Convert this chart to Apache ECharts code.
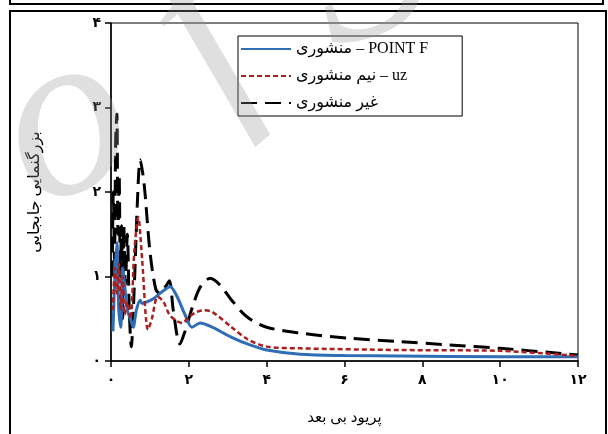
<!DOCTYPE html>
<html dir="ltr">
<head>
<meta charset="utf-8">
<script src="https://cdn.jsdelivr.net/npm/echarts@6/dist/echarts.min.js"></script>
<style>html,body{margin:0;padding:0;background:#fff}#c{width:608px;height:434px}</style>
</head>
<body>
<div id="c"></div>
<script>
// ---- data ----
var xTicks = [0, 2, 4, 6, 8, 10, 12];
var yTicks = [0, 1, 2, 3, 4];
var seriesNames = ['منشوری – POINT F', 'نیم منشوری – uz', 'غیر منشوری'];

var blueX = [0.05, 0.1, 0.15, 0.2, 0.25, 0.3, 0.35, 0.42, 0.5, 0.57, 0.65, 0.75, 0.8, 0.92, 1.1, 1.26, 1.52, 1.7, 1.9, 2.08, 2.29, 2.6, 3.1, 3.57, 4.0, 4.86, 6.0, 7.4, 10, 12];
var blueY = [0.35, 1.0, 1.4, 0.6, 0.4, 1.1, 0.9, 0.6, 0.5, 0.4, 0.6, 0.72, 0.68, 0.70, 0.74, 0.8, 0.88, 0.76, 0.55, 0.40, 0.45, 0.40, 0.28, 0.19, 0.13, 0.08, 0.065, 0.06, 0.05, 0.05];

var redX = [0.05, 0.1, 0.15, 0.2, 0.25, 0.3, 0.35, 0.42, 0.5, 0.6, 0.7, 0.8, 0.95, 1.05, 1.2, 1.35, 1.5, 1.7, 1.83, 2.0, 2.2, 2.37, 2.6, 3.1, 3.5, 4.0, 4.86, 7.4, 10, 12];
var redY = [0.6, 1.1, 0.8, 1.15, 0.6, 1.0, 0.55, 0.7, 0.5, 1.3, 1.7, 1.2, 0.37, 0.5, 0.76, 0.7, 0.55, 0.47, 0.45, 0.52, 0.58, 0.6, 0.58, 0.4, 0.26, 0.17, 0.15, 0.13, 0.12, 0.06];

var blackX = [0.03, 0.06, 0.09, 0.12, 0.15, 0.18, 0.21, 0.24, 0.27, 0.3, 0.33, 0.37, 0.42, 0.47, 0.52, 0.6, 0.68, 0.75, 0.85, 1.0, 1.15, 1.26, 1.4, 1.5, 1.6, 1.77, 1.9, 2.1, 2.3, 2.55, 2.8, 3.1, 3.5, 4.0, 4.86, 6.1, 7.4, 8.7, 10, 11.3, 12];
var blackY = [1.0, 2.0, 1.2, 2.6, 2.92, 1.5, 2.2, 1.0, 1.6, 0.5, 1.6, 0.9, 1.5, 0.6, 0.17, 0.9, 1.9, 2.38, 2.1, 1.3, 0.85, 0.8, 0.88, 0.95, 0.6, 0.2, 0.35, 0.65, 0.88, 0.98, 0.9, 0.72, 0.52, 0.4, 0.33, 0.27, 0.23, 0.19, 0.15, 0.1, 0.07];

function zip(xs, ys) { return xs.map(function (x, i) { return [x, ys[i]]; }); }
function fa(v) { return String(v).replace(/\d/g, function (d) { return '۰۱۲۳۴۵۶۷۸۹'[+d]; }); }

var FONT = "'Liberation Serif', 'DejaVu Sans', serif";
var WM = 'rgba(150,150,150,0.3)';
var WMFONT = "italic 240px 'Liberation Serif', serif";
var chart = echarts.init(document.getElementById('c'), null, { renderer: 'canvas' });
chart.setOption({
  animation: false,
  backgroundColor: '#fff',
  grid: { left: 111, right: 30, top: 23, bottom: 73, show: true, borderColor: '#000', borderWidth: 1, backgroundColor: 'transparent' },
  legend: {
    left: 238, top: 36, orient: 'vertical', align: 'left',
    itemWidth: 50, itemHeight: 12, itemGap: 11,
    padding: [5, 34, 5, 2],
    borderColor: '#000', borderWidth: 1,
    backgroundColor: '#fff',
    itemStyle: { opacity: 0 },
    textStyle: { fontFamily: FONT, fontSize: 16, color: '#000' },
    data: seriesNames
  },
  xAxis: {
    type: 'value', min: 0, max: 12, interval: 2,
    name: 'پریود بی بعد', nameLocation: 'middle', nameGap: 50,
    nameTextStyle: { fontFamily: FONT, fontSize: 15, color: '#000' },
    axisLine: { lineStyle: { color: '#000', width: 1.5 } },
    axisTick: { show: true, length: 6, lineStyle: { color: '#000', width: 1.5 } },
    axisLabel: { margin: 12, fontFamily: FONT, fontSize: 14, fontWeight: 'bold', color: '#000', formatter: function (v) { return fa(v); } },
    splitLine: { show: false }
  },
  yAxis: {
    type: 'value', min: 0, max: 4, interval: 1,
    name: 'بزرگنمایی جابجایی', nameLocation: 'middle', nameGap: 68,
    nameTextStyle: { fontFamily: FONT, fontSize: 16, color: '#000' },
    axisLine: { show: true, lineStyle: { color: '#000', width: 1.5 } },
    axisTick: { show: true, length: 6, lineStyle: { color: '#000', width: 1.5 } },
    axisLabel: { margin: 10, fontFamily: FONT, fontSize: 14, fontWeight: 'bold', color: '#000', formatter: function (v) { return fa(v); } },
    splitLine: { show: false }
  },
  series: [
    { name: seriesNames[0], type: 'line', data: zip(blueX, blueY), smooth: 0.3, showSymbol: false, symbol: 'none', z: 3,
      itemStyle: { color: '#2f6db5' }, lineStyle: { color: '#2f6db5', width: 3 } },
    { name: seriesNames[1], type: 'line', data: zip(redX, redY), smooth: 0.3, showSymbol: false, symbol: 'none', z: 4,
      itemStyle: { color: '#a8201f' }, lineStyle: { color: '#a8201f', width: 2.5, type: [5, 3] } },
    { name: seriesNames[2], type: 'line', data: zip(blackX, blackY), smooth: 0.3, showSymbol: false, symbol: 'none', z: 2,
      itemStyle: { color: '#000' }, lineStyle: { color: '#000', width: 3, type: [16, 8] } }
  ],
  graphic: [
    { type: 'rect', shape: { x: 10, y: -10, width: 593, height: 14 }, style: { fill: 'none', stroke: '#000', lineWidth: 2 }, z: 10 },
    { type: 'rect', shape: { x: 10, y: 11, width: 596, height: 440 }, style: { fill: 'none', stroke: '#000', lineWidth: 2 }, z: 10 },
    { type: 'text', x: 66, y: 128, rotation: 0.38, z: 20, silent: true,
      style: { text: 'o', font: WMFONT, fill: WM, textAlign: 'center', textVerticalAlign: 'middle' } },
    { type: 'text', x: 205, y: 40, rotation: 0.7, z: 20, silent: true,
      style: { text: 'f', font: WMFONT, fill: WM, textAlign: 'center', textVerticalAlign: 'middle' } },
    { type: 'text', x: 365, y: -30, rotation: 0.38, z: 20, silent: true,
      style: { text: 'S', font: WMFONT, fill: WM, textAlign: 'center', textVerticalAlign: 'middle' } }
  ]
});
</script>
</body>
</html>
